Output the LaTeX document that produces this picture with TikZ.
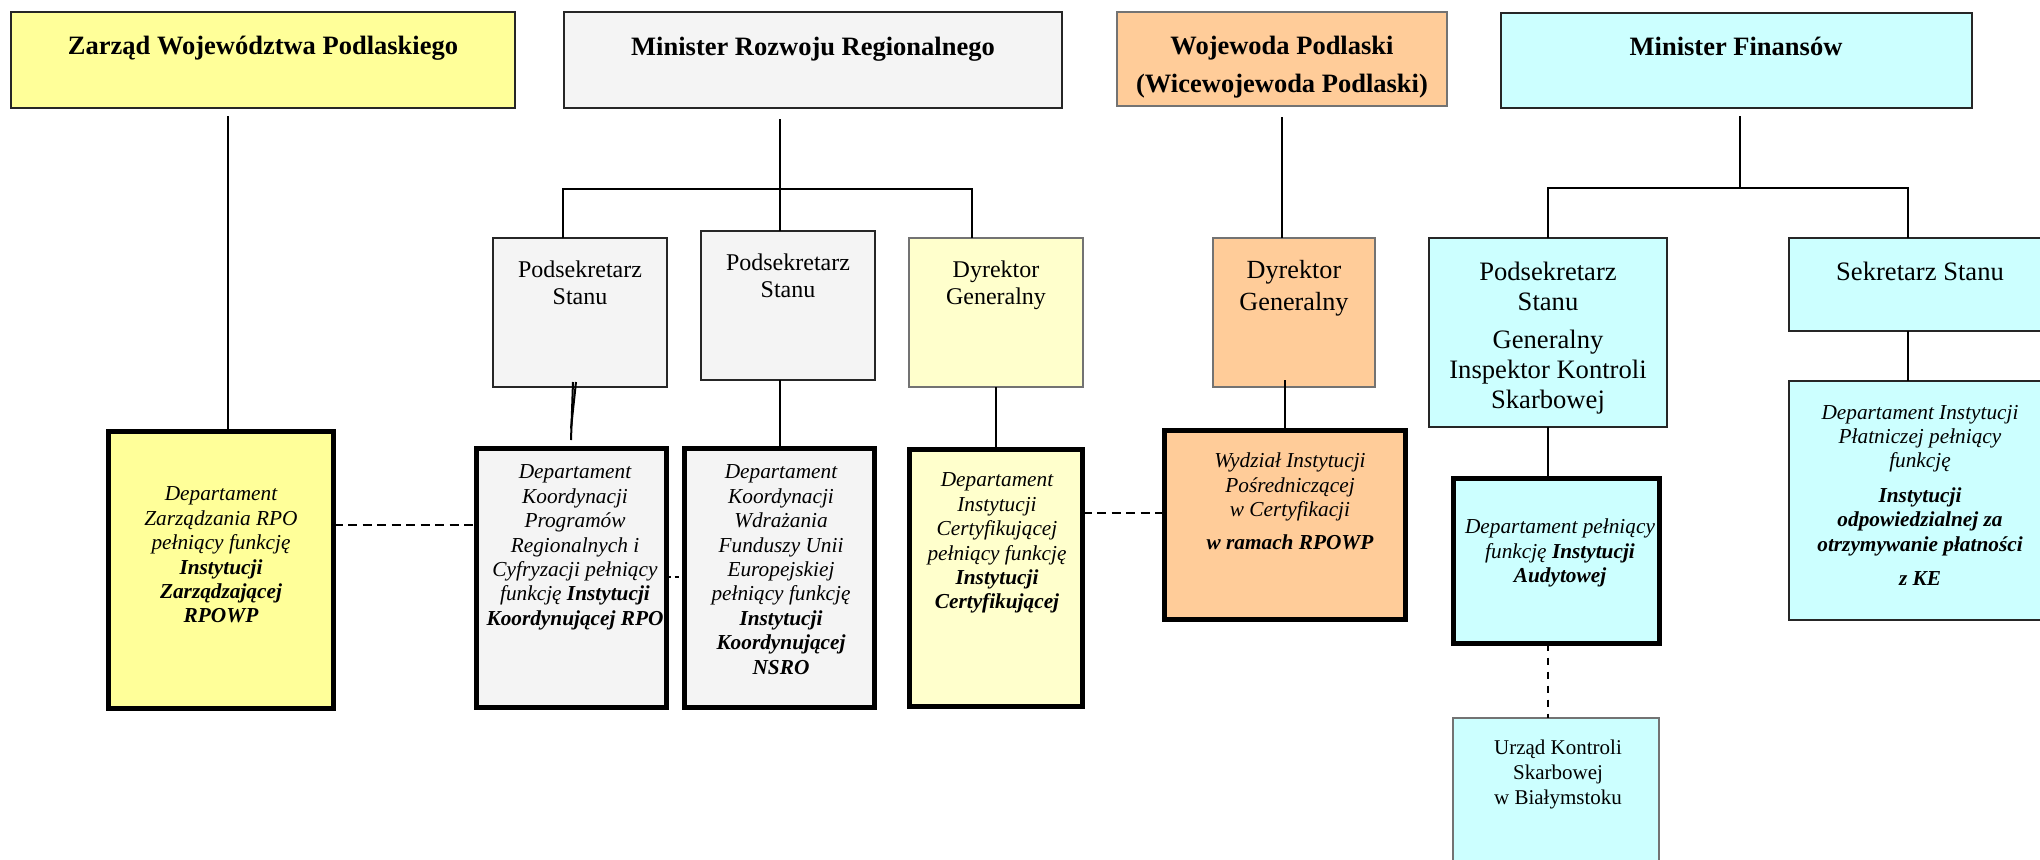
\documentclass[tikz,border=0pt]{standalone}
\usepackage{fontspec}
\setmainfont{Liberation Serif}
\usetikzlibrary{calc}
\definecolor{cYel}{HTML}{FFFF99}
\definecolor{cGray}{HTML}{F4F4F4}
\definecolor{cLYel}{HTML}{FFFFCC}
\definecolor{cOr}{HTML}{FFCC99}
\definecolor{cCy}{HTML}{CCFFFF}
\newcommand{\orgbox}[6]{\node[#6, minimum width={(#4-#2)*0.5pt}, minimum height={(#5-#3)*0.5pt}] (#1) at ({(#2+#4)/2},{(#3+#5)/2}) {};}
\begin{document}
\begin{tikzpicture}[x=0.5pt,y=-0.5pt,
  thin/.style={draw=black!85, line width=1pt, inner sep=0pt, outer sep=0pt},
  pale/.style={draw=black!55, line width=0.8pt, inner sep=0pt, outer sep=0pt},
  thick/.style={draw=black, line width=2.3pt, inner sep=0pt, outer sep=0pt},
  conn/.style={draw=black, line width=1pt},
  dashc/.style={draw=black, line width=0.9pt, dash pattern=on 4.5pt off 2.75pt},
  dashv/.style={draw=black, line width=0.9pt, dash pattern=on 3.5pt off 3.5pt},
  txt/.style={inner sep=0pt, outer sep=0pt, anchor=north, align=center, text=black},
  ttl/.style={txt, font=\fontsize{13.25pt}{19pt}\selectfont\bfseries},
  mid/.style={txt, font=\fontsize{12pt}{13.5pt}\selectfont},
  midor/.style={txt, font=\fontsize{13.1pt}{16pt}\selectfont},
  midcy/.style={txt, font=\fontsize{13.3pt}{15pt}\selectfont},
  dep/.style={txt, font=\fontsize{10.65pt}{12.2pt}\selectfont\itshape},
  urz/.style={txt, font=\fontsize{10.5pt}{12.5pt}\selectfont}]
\useasboundingbox (0,0) rectangle (2040,859);
\fill[white] (0,0) rectangle (2040,859);
\clip (0,0) rectangle (2040,859);

% boxes
\orgbox{A}{11}{12}{515}{108}{thin, fill=cYel}
\orgbox{M}{564}{12}{1062}{108}{thin, fill=cGray}
\orgbox{W}{1117}{12}{1447}{106}{pale, fill=cOr}
\orgbox{F}{1501}{13}{1972}{108}{thin, fill=cCy}
\orgbox{B1}{493}{238}{667}{387}{thin, fill=cGray}
\orgbox{B2}{701}{231}{875}{380}{thin, fill=cGray}
\orgbox{B3}{909}{238}{1083}{387}{pale, fill=cLYel}
\orgbox{OD}{1213}{238}{1375}{387}{pale, fill=cOr}
\orgbox{CP}{1429}{238}{1667}{427}{thin, fill=cCy}
\orgbox{SS}{1789}{238}{2060}{331}{thin, fill=cCy}
\orgbox{UK}{1453}{718}{1659}{900}{pale, fill=cCy}
\orgbox{DA}{108.5}{431.5}{333.5}{708.5}{thick, fill=cYel}
\orgbox{D1}{476.5}{448.5}{666.5}{707.5}{thick, fill=cGray}
\orgbox{D2}{684.5}{448.5}{874.5}{707.5}{thick, fill=cGray}
\orgbox{D3}{909.5}{449.5}{1082.5}{706.5}{thick, fill=cLYel}
\orgbox{WI}{1164.5}{430.5}{1405.5}{619.5}{thick, fill=cOr}
\orgbox{AU}{1453.5}{478.5}{1659.5}{643.5}{thick, fill=cCy}
\orgbox{PL}{1789}{381}{2060}{620}{thin, fill=cCy}

% helper coordinates
\coordinate (xA) at (228,0);
\coordinate (busM) at (780,189);
\coordinate (xL) at (563,0);
\coordinate (xR) at (972,0);
\coordinate (busF) at (1740,188);
\coordinate (xS) at (1908,0);
\coordinate (yd1) at (0,525);
\coordinate (yd2) at (0,577);
\coordinate (yd3) at (0,513);

% connectors
\draw[conn, shorten <=4pt] (A.south -| xA) -- (DA.north -| xA);
\draw[conn, shorten <=5.5pt] (M.south -| busM) -- (B2.north -| busM);
\draw[conn] (B1.north -| xL) |- (busM) -| (B3.north -| xR);
\draw[conn] ($(B1.south)+(-7,-5)$) -- ($(D1.north)+(-0.5,-8.5)$);
\draw[conn] ($(B1.south)+(-4,-5)$) -- ($(D1.north)+(-0.5,-20)$);
\draw[conn] (B2.south -| D2.north) -- (D2.north);
\draw[conn] (B3.south) -- (D3.north);
\draw[conn, shorten <=5.5pt] (W.south) -- (W.south |- OD.north);
\draw[conn] ($(WI.north |- OD.south)+(0,-7)$) -- (WI.north);
\draw[conn, shorten <=4pt] (F.south -| busF) -- (busF);
\draw[conn] (CP.north) |- (busF) -| (SS.north -| xS);
\draw[conn] (SS.south -| xS) -- (PL.north -| xS);
\draw[conn] (CP.south) -- (CP.south |- AU.north);
\draw[dashv] (CP.south |- AU.south) -- (CP.south |- UK.north);
\draw[dashc] (DA.east |- yd1) -- (D1.west |- yd1);
\draw[dashc, dash pattern=on 2pt off 2pt] (D1.east |- yd2) -- (D2.west |- yd2);
\draw[dashc] (D3.east |- yd3) -- (WI.west |- yd3);

% texts
\node[ttl] (tA) at (263,36) {Zarząd Województwa Podlaskiego};
\node[ttl] (tM) at (813,37) {Minister Rozwoju Regionalnego};
\node[ttl] (tW) at (1282,36) {Wojewoda Podlaski\\(Wicewojewoda Podlaski)};
\node[ttl] (tF) at (1736,37) {Minister Finansów};
\node[mid] (tB1) at (580,261) {Podsekretarz\\Stanu};
\node[mid] (tB2) at (788,254) {Podsekretarz\\Stanu};
\node[mid] (tB3) at (996,261) {Dyrektor\\Generalny};
\node[midor] (tOD) at (1294,260) {Dyrektor\\Generalny};
\node[midcy] (tCP) at (1548,262) {Podsekretarz\\Stanu\\[4pt]Generalny\\Inspektor Kontroli\\Skarbowej};
\node[midcy] (tSS) at (1920,262) {Sekretarz Stanu};
\node[dep] (tDA) at (221,487) {Departament\\Zarządzania RPO\\pełniący funkcję\\\textbf{Instytucji}\\\textbf{Zarządzającej}\\\textbf{RPOWP}};
\node[dep] (tD1) at (575,465) {Departament\\Koordynacji\\Programów\\Regionalnych i\\Cyfryzacji pełniący\\funkcję \textbf{Instytucji}\\\textbf{Koordynującej RPO}};
\node[dep] (tD2) at (781,465) {Departament\\Koordynacji\\Wdrażania\\Funduszy Unii\\Europejskiej\\pełniący funkcję\\\textbf{Instytucji}\\\textbf{Koordynującej}\\\textbf{NSRO}};
\node[dep] (tD3) at (997,473) {Departament\\Instytucji\\Certyfikującej\\pełniący funkcję\\\textbf{Instytucji}\\\textbf{Certyfikującej}};
\node[dep] (tWI) at (1290,453) {Wydział Instytucji\\Pośredniczącej\\w Certyfikacji\\[4.25pt]\textbf{w ramach RPOWP}};
\node[dep] (tAU) at (1560,519) {Departament pełniący\\funkcję \textbf{Instytucji}\\\textbf{Audytowej}};
\node[dep] (tPL) at (1920,405) {Departament Instytucji\\Płatniczej pełniący\\funkcję\\[5pt]\textbf{Instytucji}\\\textbf{odpowiedzialnej za}\\\textbf{otrzymywanie płatności}\\[5pt]\textbf{z KE}};
\node[urz] (tUK) at (1558,740) {Urząd Kontroli\\Skarbowej\\w Białymstoku};
\end{tikzpicture}
\end{document}
